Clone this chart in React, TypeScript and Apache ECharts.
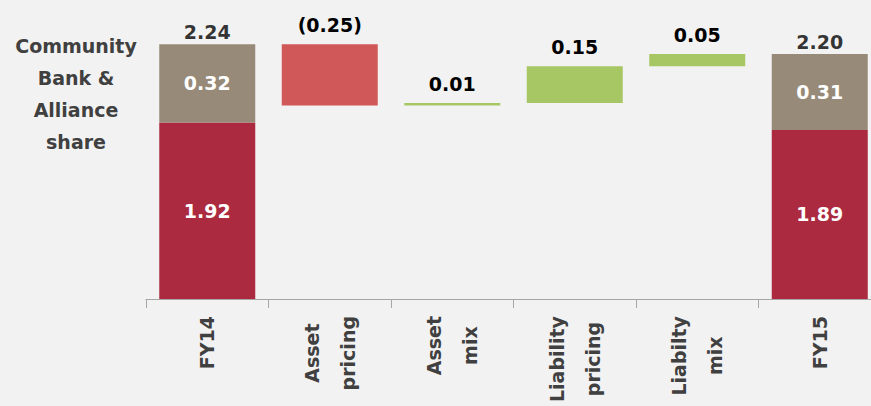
import React, { useEffect, useRef } from "react";
import * as echarts from "echarts";

const categories = ["FY14", "Asset\npricing", "Asset\nmix", "Liability\npricing", "Liabilty\nmix", "FY15"];
const coreValues: (number | null)[] = [1.92, null, null, null, null, 1.89];
const shareValues: (number | null)[] = [0.32, null, null, null, null, 0.31];
const changes: (number | null)[] = [null, -0.25, 0.01, 0.15, 0.05, null];
const sideNote = "Community\nBank &\nAlliance\nshare";

const C_CORE = "#AB2A3F";
const C_SHARE = "#978A78";
const C_DOWN = "#D05858";
const C_UP = "#A6C764";
const FONT = "DejaVu Sans";

function fmt(v: number) {
  return v < 0 ? `(${Math.abs(v).toFixed(2)})` : v.toFixed(2);
}

export default function App() {
  const ref = useRef<HTMLDivElement>(null);
  useEffect(() => {
    if (!ref.current) return;
    const chart = echarts.init(ref.current, null, { renderer: "svg" });

    const totals = categories.map((_, i) =>
      coreValues[i] != null ? (coreValues[i] as number) + (shareValues[i] as number) : null
    );
    let running = 0;
    const base: (number | string)[] = [];
    const deltaData: any[] = [];
    categories.forEach((_, i) => {
      if (totals[i] != null) {
        running = totals[i] as number;
        base.push("-");
        deltaData.push("-");
      } else {
        const c = changes[i] as number;
        const lo = c < 0 ? running + c : running;
        base.push(+lo.toFixed(4));
        deltaData.push({
          value: +Math.abs(c).toFixed(4),
          raw: c,
          itemStyle: { color: c < 0 ? C_DOWN : C_UP },
        });
        running += c;
      }
    });
    const totalPoints = totals
      .map((t, i) => (t != null ? [i, +t.toFixed(4)] : null))
      .filter((p) => p) as number[][];

    const whiteLabel = {
      show: true,
      position: "inside",
      color: "#FFFFFF",
      fontFamily: FONT,
      fontWeight: "bold",
      fontSize: 19,
      formatter: (p: any) => (p.value == null || p.value === "-" ? "" : Number(p.value).toFixed(2)),
    };

    chart.setOption({
      animation: false,
      backgroundColor: "#F2F2F2",
      grid: { left: 146, right: 0, top: 5, bottom: 107 },
      xAxis: {
        type: "category",
        data: categories,
        axisLine: { lineStyle: { color: "#A6A6A6", width: 1 } },
        axisTick: { show: true, length: 9, lineStyle: { color: "#A6A6A6" } },
        axisLabel: {
          rotate: 90,
          margin: 17,
          interval: 0,
          color: "#404040",
          fontFamily: FONT,
          fontWeight: "bold",
          fontSize: 19,
          lineHeight: 36,
          formatter: (v: string) => v.split("\n").map((s) => `{c|${s}}`).join("\n"),
          rich: {
            c: {
              align: "center",
              color: "#404040",
              fontFamily: FONT,
              fontWeight: "bold",
              fontSize: 19,
              lineHeight: 36,
            },
          },
        },
      },
      yAxis: {
        type: "value",
        min: 1.2,
        max: 2.4,
        show: false,
        splitLine: { show: false },
      },
      graphic: [
        {
          type: "text",
          left: 8,
          top: 30,
          style: {
            text: sideNote,
            fill: "#404040",
            font: `bold 19px "${FONT}"`,
            lineHeight: 32,
            textAlign: "center",
            width: 136,
            overflow: "none",
          },
          x: 68,
        },
      ],
      series: [
        {
          type: "bar",
          stack: "w",
          barWidth: 96,
          data: base,
          itemStyle: { color: "transparent" },
          silent: true,
        },
        {
          type: "bar",
          stack: "w",
          barWidth: 96,
          data: coreValues.map((v) => (v == null ? "-" : v)),
          itemStyle: { color: C_CORE },
          label: whiteLabel,
        },
        {
          type: "bar",
          stack: "w",
          barWidth: 96,
          data: shareValues.map((v) => (v == null ? "-" : v)),
          itemStyle: { color: C_SHARE },
          label: whiteLabel,
        },
        {
          type: "bar",
          stack: "w",
          barWidth: 96,
          data: deltaData,
          label: {
            show: true,
            position: "top",
            distance: 10,
            color: "#000000",
            fontFamily: FONT,
            fontWeight: "bold",
            fontSize: 19,
            formatter: (p: any) => (p.data && p.data.raw != null ? fmt(p.data.raw) : ""),
          },
        },
        {
          type: "scatter",
          symbolSize: 0,
          data: totalPoints,
          label: {
            show: true,
            position: "top",
            distance: 3,
            color: "#000000",
            fontFamily: FONT,
            fontWeight: "bold",
            fontSize: 19,
            formatter: (p: any) => Number(p.value[1]).toFixed(2),
          },
        },
      ],
    });
    return () => chart.dispose();
  }, []);
  return (
    <div
      ref={ref}
      style={{ position: "fixed", left: 0, top: 0, width: 881, height: 406 }}
    />
  );
}
